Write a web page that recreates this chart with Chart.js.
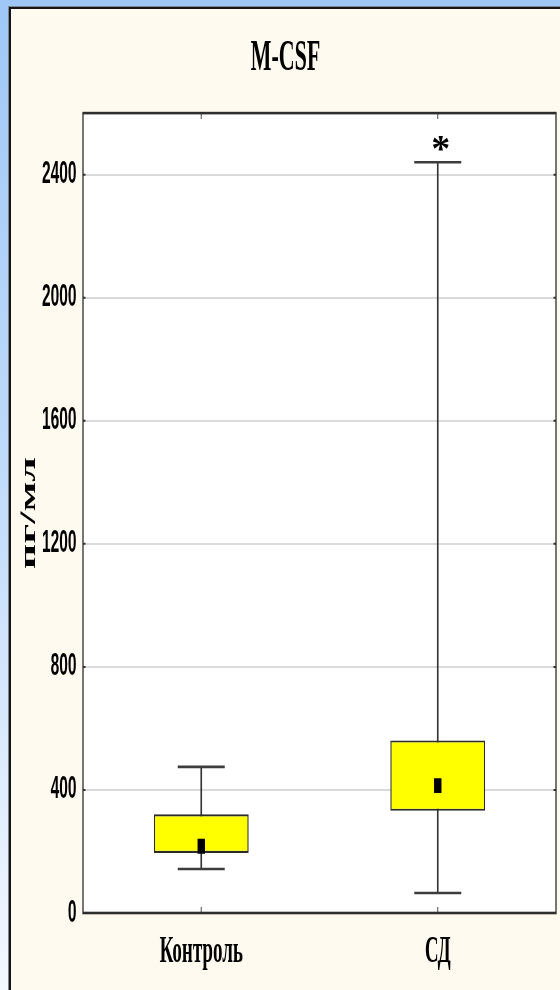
<!DOCTYPE html>
<html lang="ru">
<head>
<meta charset="utf-8">
<title>M-CSF</title>
<script src="https://cdn.jsdelivr.net/npm/chart.js@4"></script>
<style>
  html, body { margin: 0; padding: 0; }
  body {
    width: 560px; height: 990px; overflow: hidden; position: relative;
    background: linear-gradient(to bottom, #9fc7f6 0%, #c2dcfa 50%, #f4f8ff 100%);
  }
  #panel {
    position: absolute; left: 9px; top: 7px; width: 620px; height: 1020px;
    background: #fffaf0;
    border-left: 2px solid #151515; border-top: 2px solid #151515;
    box-shadow: -1px -1px 0 #7d8896;
  }
  #stage { position: absolute; left: 0; top: 0; width: 560px; height: 990px; overflow: hidden; }
  /* the chart is laid out twice as wide and then narrowed, giving tall condensed lettering */
  #chart { position: absolute; left: 0; top: 0; transform: scaleX(0.5); transform-origin: 0 0; }
</style>
</head>
<body>
<div id="panel"></div>
<div id="stage"><canvas id="chart" width="1120" height="990"></canvas></div>
<script>
// Box-plot summary per group, pg/ml
const categories   = ['Контроль', 'СД'];
const whiskerLow   = [143, 65];
const quartileLow  = [195, 332];
const medians      = [217, 414];
const quartileHigh = [321, 561];
const whiskerHigh  = [475, 2440];
const significance = ['', '*'];
const yTicks = [0, 400, 800, 1200, 1600, 2000, 2400];
const yMin = 0;
const yMax = 2600;

const boxRanges = categories.map((_, i) => [quartileLow[i], quartileHigh[i]]);
const whiskerRanges = categories.map((_, i) => [whiskerLow[i], whiskerHigh[i]]);

const plotFrame = {
  id: 'plotFrame',
  beforeDraw(chart) {
    const { ctx, chartArea: a } = chart;
    ctx.save();
    ctx.fillStyle = '#ffffff';
    ctx.fillRect(a.left, a.top, a.right - a.left, a.bottom - a.top);
    ctx.restore();
  },
  afterDraw(chart) {
    const { ctx, chartArea: a } = chart;
    const xs = chart.scales.x, ys = chart.scales.y;
    ctx.save();
    // small tick marks on the frame
    ctx.strokeStyle = '#4a4a4a';
    ctx.lineWidth = 2;
    categories.forEach((_, i) => {
      const px = xs.getPixelForValue(i);
      ctx.beginPath();
      ctx.moveTo(px, a.top); ctx.lineTo(px, a.top + 6);
      ctx.moveTo(px, a.bottom); ctx.lineTo(px, a.bottom - 6);
      ctx.stroke();
    });
    ctx.strokeStyle = '#333';
    yTicks.forEach(v => {
      const py = ys.getPixelForValue(v);
      ctx.beginPath();
      ctx.moveTo(a.left, py); ctx.lineTo(a.left + 5, py);
      ctx.moveTo(a.right, py); ctx.lineTo(a.right - 5, py);
      ctx.stroke();
    });
    // frame
    ctx.strokeStyle = '#2e2e2e';
    ctx.lineWidth = 2.6;
    ctx.strokeRect(a.left, a.top, a.right - a.left, a.bottom - a.top);
    // significance marks above the upper whiskers
    ctx.fillStyle = '#000';
    ctx.font = 'bold 38px "Liberation Serif", serif';
    ctx.textAlign = 'center';
    ctx.textBaseline = 'alphabetic';
    significance.forEach((s, i) => {
      if (!s) return;
      const px = xs.getPixelForValue(i) + 6;
      const py = ys.getPixelForValue(whiskerHigh[i]) - 18;
      ctx.save();
      ctx.translate(px, py + 17);
      ctx.scale(2, 1);
      ctx.fillText(s, 0, 0);
      ctx.restore();
    });
    ctx.restore();
  }
};

new Chart(document.getElementById('chart'), {
  type: 'bar',
  data: {
    labels: categories,
    datasets: [
      {
        type: 'line', label: 'Медиана', data: medians, showLine: false,
        pointStyle: 'rect', pointRadius: 10.5, pointHoverRadius: 10.5,
        pointBackgroundColor: '#000', pointBorderWidth: 0, order: 0
      },
      {
        type: 'line', label: 'Максимум', data: whiskerHigh, showLine: false,
        pointStyle: 'line', pointRadius: 47, pointHoverRadius: 47,
        borderColor: '#3c3c3c', pointBorderColor: '#3c3c3c', pointBorderWidth: 2.6, order: 1
      },
      {
        type: 'line', label: 'Минимум', data: whiskerLow, showLine: false,
        pointStyle: 'line', pointRadius: 47, pointHoverRadius: 47,
        borderColor: '#3c3c3c', pointBorderColor: '#3c3c3c', pointBorderWidth: 2.6, order: 1
      },
      {
        type: 'bar', label: '25%-75%', data: boxRanges,
        backgroundColor: '#ffff00', borderColor: '#2b2b2b', borderWidth: 2.2,
        borderSkipped: false, grouped: false, barPercentage: 0.4, categoryPercentage: 1, order: 2
      },
      {
        type: 'bar', label: 'Размах', data: whiskerRanges,
        backgroundColor: '#333', barThickness: 2.6, grouped: false, order: 3
      }
    ]
  },
  options: {
    responsive: false,
    animation: false,
    devicePixelRatio: 1,
    layout: { autoPadding: false, padding: { left: 30, right: 8, top: 0, bottom: 0 } },
    plugins: {
      legend: { display: false },
      tooltip: { enabled: false },
      title: {
        display: true, text: 'M-CSF', color: '#000',
        font: { family: '"Liberation Serif", serif', size: 44, weight: 'bold' },
        padding: { top: 32, bottom: 28.3 }
      }
    },
    scales: {
      x: {
        offset: true,
        grid: { display: false, drawTicks: false },
        border: { display: false },
        ticks: {
          color: '#000', padding: 16, maxRotation: 0,
          font: { family: '"Liberation Serif", serif', size: 38, weight: 'bold' }
        },
        afterFit(s) { s.height = 77; s.paddingLeft = 0; s.paddingRight = 0; }
      },
      y: {
        min: yMin, max: yMax,
        grid: { color: '#dadada', lineWidth: 2, drawTicks: false },
        border: { display: false },
        ticks: {
          color: '#000', padding: 13,
          font: { family: '"Liberation Sans Narrow", "Liberation Sans", sans-serif', size: 31, weight: 'bold' },
          callback: v => String(v)
        },
        afterBuildTicks(s) { s.ticks = yTicks.map(v => ({ value: v })); },
        afterFit(s) { s.width = 136; },
        title: {
          display: true, text: 'пг/мл', color: '#000',
          font: { family: '"Liberation Serif", serif', size: 44, weight: 'bold' },
          padding: { top: 2, bottom: 0 }
        }
      }
    }
  },
  plugins: [plotFrame]
});
</script>
</body>
</html>
